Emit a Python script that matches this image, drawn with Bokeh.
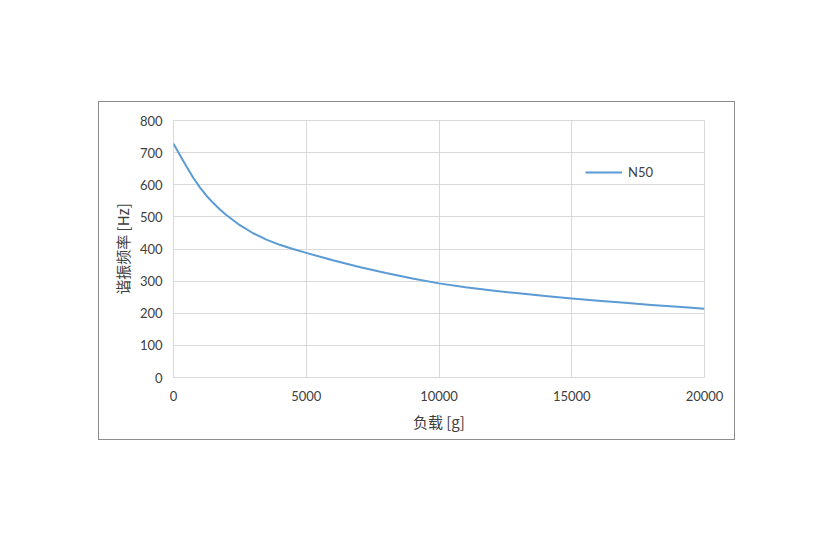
from bokeh.plotting import figure
from bokeh.models import Legend, LegendItem, FixedTicker, Spacer, Range1d
from bokeh.layouts import column, row
from bokeh.embed import file_html
from bokeh.resources import INLINE

load_g = [0, 250, 500, 750, 1000, 1250, 1500, 1750, 2000, 2500, 3000, 3500, 4000, 4500, 5000,
          6000, 7000, 8000, 9000, 10000, 11000, 12000, 13000, 14000, 15000,
          16000, 17000, 18000, 19000, 20000]
freq_hz = [728, 691, 655, 621, 591, 565, 543, 523, 505, 474, 449, 429, 413, 400, 388,
           365, 344, 325, 308, 293, 281, 271, 262, 254, 246,
           239, 233, 226, 220, 214]
x_ticks = [0, 5000, 10000, 15000, 20000]
y_ticks = [0, 100, 200, 300, 400, 500, 600, 700, 800]
series_name = "N50"

p = figure(width=637, height=339, output_backend="svg", toolbar_location=None,
           x_range=Range1d(0, 20000), y_range=Range1d(0, 800),
           min_border_left=74, min_border_right=32, min_border_top=18, min_border_bottom=64,
           styles={"border": "1px solid #8c8c8c"})
p.background_fill_color = "white"
p.border_fill_color = "white"
p.outline_line_color = "#d9d9d9"

r = p.line(load_g, freq_hz, line_color="#5B9BD5", line_width=2, line_join="round")

p.xaxis.ticker = FixedTicker(ticks=x_ticks)
p.yaxis.ticker = FixedTicker(ticks=y_ticks)
for ax in (p.xaxis[0], p.yaxis[0]):
    ax.axis_line_color = None
    ax.major_tick_line_color = None
    ax.minor_tick_line_color = None
    ax.major_label_text_font = "Lato"
    ax.major_label_text_font_size = "13px"
    ax.major_label_text_color = "#404040"
    ax.axis_label_text_font = "Noto Sans CJK SC"
    ax.axis_label_text_font_size = "15px"
    ax.axis_label_text_font_style = "normal"
    ax.axis_label_text_color = "#404040"
p.xaxis.major_label_standoff = 7
p.yaxis.major_label_standoff = 5
p.xaxis.axis_label = "负载 [g]"
p.yaxis.axis_label = "谐振频率 [Hz]"
p.xaxis.axis_label_standoff = 7
p.yaxis.axis_label_standoff = 4

p.xgrid.grid_line_color = "#d9d9d9"
p.ygrid.grid_line_color = "#d9d9d9"

legend = Legend(items=[LegendItem(label=series_name, renderers=[r])],
                location=(412, 195), orientation="vertical")
legend.border_line_color = None
legend.background_fill_alpha = 0
legend.padding = 0
legend.margin = 0
legend.glyph_width = 37
legend.glyph_height = 20
legend.label_height = 20
legend.label_standoff = 6
legend.label_text_font = "Lato"
legend.label_text_font_size = "13px"
legend.label_text_color = "#404040"
p.add_layout(legend)

layout = column(Spacer(height=101), row(Spacer(width=98), p))
open("out.html", "w").write(file_html(layout, INLINE))
